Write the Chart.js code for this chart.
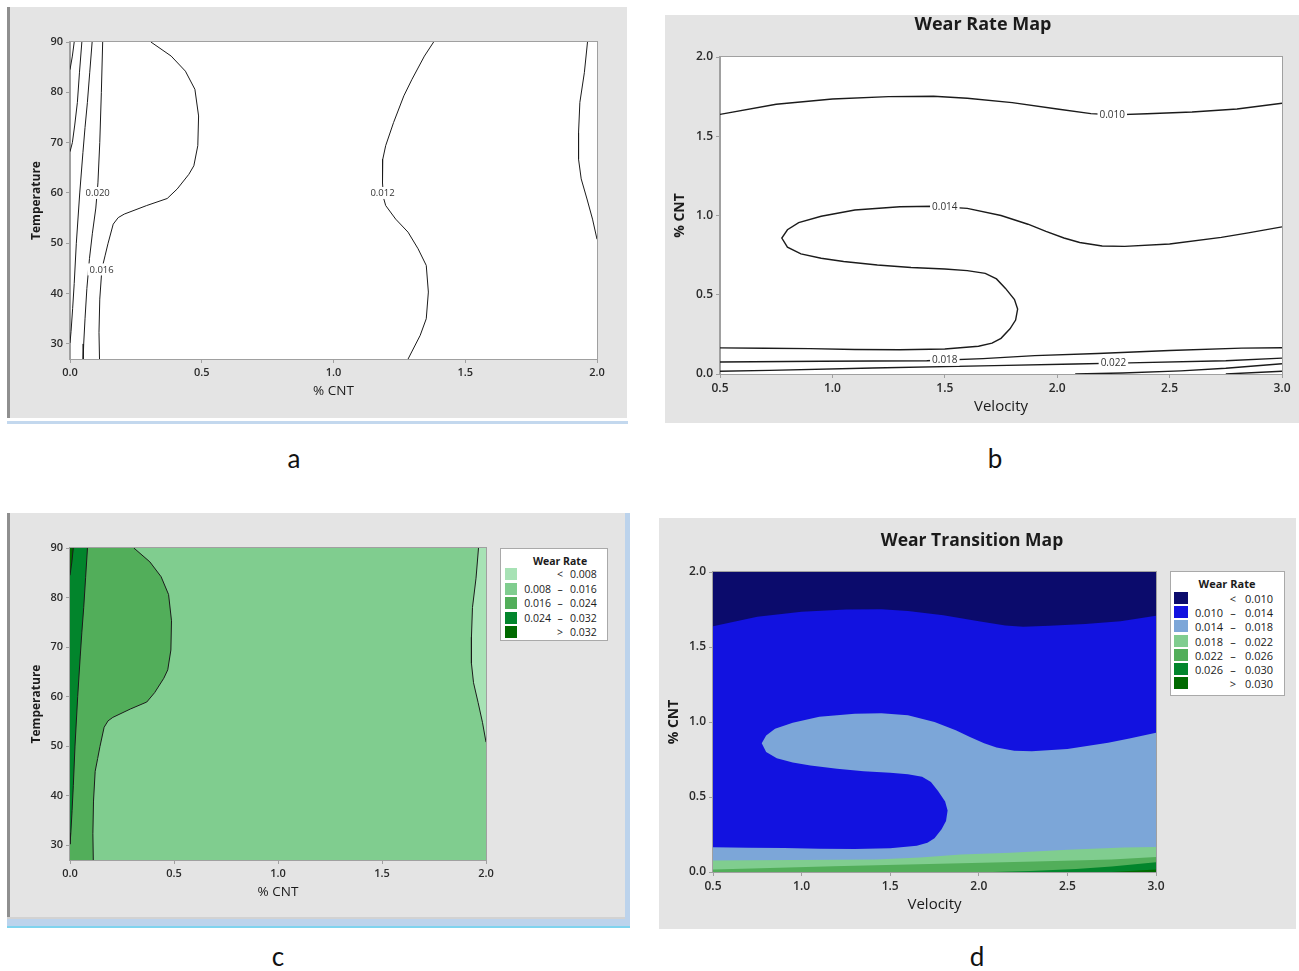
<!DOCTYPE html>
<html>
<head>
<meta charset="utf-8">
<title>Wear rate contour maps</title>
<script src="https://cdn.jsdelivr.net/npm/chart.js@4.4.1/dist/chart.umd.min.js"></script>
<style>
  html, body { margin: 0; padding: 0; background: #fff; }
  body { position: relative; width: 1299px; height: 971px; overflow: hidden; font-family: 'Open Sans', 'Noto Sans', sans-serif; }
  .box { position: absolute; }
  .gray { background: #e4e4e4; }
  canvas { position: absolute; }
  .legend { position: absolute; box-sizing: border-box; background: #fff; border: 1px solid #a9a9a9; color: #1b1b1b; }
  .legend div { position: absolute; white-space: nowrap; line-height: 1; }
  .tag { position: absolute; font-family: 'Lato', 'Open Sans', sans-serif; font-size: 26px; color: #111; transform: translate(-50%, -50%); }
</style>
</head>
<body>
  <!-- panel a frame -->
  <div class="box gray" style="left:7px;top:7px;width:620px;height:411px;"></div>
  <div class="box" style="left:7px;top:7px;width:3px;height:411px;background:#8f8f8f;"></div>
  <div class="box" style="left:7px;top:421px;width:621px;height:3px;background:#c3d8ee;"></div>
  <canvas id="chartA" width="620" height="411" style="left:7px;top:7px;"></canvas>

  <!-- panel b frame -->
  <div class="box gray" style="left:665px;top:15px;width:634px;height:408px;"></div>
  <canvas id="chartB" width="634" height="408" style="left:665px;top:15px;"></canvas>

  <!-- panel c frame -->
  <div class="box gray" style="left:7px;top:513px;width:618px;height:404px;"></div>
  <div class="box" style="left:7px;top:513px;width:3px;height:404px;background:#8f8f8f;"></div>
  <div class="box" style="left:625px;top:513px;width:5px;height:415px;background:#bcd3ec;"></div>
  <div class="box" style="left:7px;top:917px;width:618px;height:2px;background:#d2d2d2;"></div>
  <div class="box" style="left:7px;top:919px;width:623px;height:7px;background:#bcd3ec;"></div>
  <div class="box" style="left:7px;top:926px;width:623px;height:2px;background:#7fd3ee;"></div>
  <canvas id="chartC" width="618" height="404" style="left:7px;top:513px;"></canvas>

  <!-- panel d frame -->
  <div class="box gray" style="left:659px;top:518px;width:637px;height:411px;"></div>
  <canvas id="chartD" width="637" height="411" style="left:659px;top:518px;"></canvas>

  <div id="legendC" class="legend" style="left:500px;top:548px;width:108px;height:93px;"></div>
  <div id="legendD" class="legend" style="left:1170px;top:571px;width:115px;height:125px;"></div>

  <div class="tag" style="left:294px;top:458px;">a</div>
  <div class="tag" style="left:995px;top:458px;">b</div>
  <div class="tag" style="left:278px;top:956px;">c</div>
  <div class="tag" style="left:977px;top:956px;">d</div>

<script>
// ---------- axes ----------
const cntRange = [0, 2];
const tempRange = [27, 90];
const velRange = [0.5, 3.0];
const cntTicks = [0.0, 0.5, 1.0, 1.5, 2.0];
const tempTicks = [30, 40, 50, 60, 70, 80, 90];
const velTicks = [0.5, 1.0, 1.5, 2.0, 2.5, 3.0];

// ---------- % CNT vs Temperature contours, [%CNT, Temperature] ----------
const tc032 = [[0.016, 90], [0.009, 87.2], [0.0, 84.5]];
const tc028 = [[0.045, 90], [0.036, 84], [0.028, 78], [0.018, 73.5], [0.009, 70], [0.0, 68.2]];
const tc024 = [[0.084, 90], [0.075, 84], [0.066, 78], [0.057, 73], [0.049, 68], [0.037, 60], [0.024, 50],
               [0.016, 42], [0.010, 37], [0.004, 32.5], [0.0, 30.2]];
const tc020 = [[0.124, 90], [0.119, 80], [0.113, 70], [0.106, 62], [0.098, 57], [0.085, 52], [0.074, 47],
               [0.064, 41], [0.057, 35], [0.052, 30], [0.050, 27]];
const tc016 = [[0.307, 90], [0.384, 87.2], [0.438, 84.2], [0.474, 80.6], [0.488, 75.3], [0.485, 69.4],
               [0.470, 65.4], [0.451, 63.7], [0.407, 60.8], [0.369, 58.9], [0.291, 57.5], [0.206, 55.8],
               [0.183, 55.1], [0.164, 53.8], [0.144, 49.9], [0.133, 47.5], [0.121, 44.9], [0.113, 38.9],
               [0.110, 32.3], [0.112, 27]];
const tc012 = [[1.380, 90], [1.345, 87.2], [1.298, 82.6], [1.267, 79.3], [1.228, 74], [1.198, 69.4],
               [1.187, 66.7], [1.186, 62], [1.190, 59], [1.198, 57.5], [1.236, 54.8], [1.283, 52.2],
               [1.321, 48.9], [1.352, 45.6], [1.360, 40.3], [1.352, 35], [1.329, 31.7], [1.283, 27]];
const tc008 = [[1.964, 90], [1.952, 83.9], [1.935, 78], [1.930, 72], [1.930, 66.7], [1.940, 62.8],
               [1.962, 58.8], [1.983, 54.8], [2.0, 50.8]];
const tempLabelText = ['0.020', '0.016', '0.012'];
const tempLabelAt = [[0.105, 60], [0.120, 44.8], [1.186, 60]];

// ---------- Velocity vs % CNT contours, [Velocity, %CNT] ----------
const wr010 = [[0.5, 1.638], [0.75, 1.702], [1.0, 1.735], [1.25, 1.75], [1.45, 1.752], [1.6, 1.74],
               [1.8, 1.712], [2.0, 1.672], [2.15, 1.643], [2.25, 1.635], [2.4, 1.642], [2.6, 1.653],
               [2.8, 1.672], [3.0, 1.708]];
const wr014 = [[3.0, 0.928], [2.85, 0.89], [2.73, 0.862], [2.5, 0.82], [2.3, 0.805], [2.2, 0.808],
               [2.1, 0.83], [2.03, 0.858], [1.95, 0.9], [1.87, 0.945], [1.75, 1.0], [1.6, 1.045],
               [1.45, 1.058], [1.3, 1.055], [1.1, 1.035], [0.95, 0.995], [0.85, 0.955], [0.8, 0.91],
               [0.775, 0.858], [0.8, 0.8], [0.86, 0.758], [0.95, 0.73], [1.05, 0.71], [1.2, 0.688],
               [1.35, 0.672], [1.5, 0.662], [1.6, 0.652], [1.68, 0.635], [1.73, 0.6], [1.77, 0.54],
               [1.81, 0.47], [1.824, 0.41], [1.815, 0.34], [1.79, 0.285], [1.75, 0.225], [1.71, 0.195],
               [1.65, 0.175], [1.5, 0.158], [1.3, 0.153], [1.1, 0.155], [0.9, 0.16], [0.7, 0.162],
               [0.5, 0.165]];
const wr018 = [[0.5, 0.076], [0.95, 0.080], [1.42, 0.084], [1.67, 0.097], [1.9, 0.116], [2.18, 0.129],
               [2.5, 0.148], [2.82, 0.163], [3.0, 0.166]];
const wr022 = [[0.5, 0.017], [0.72, 0.023], [1.18, 0.038], [1.72, 0.053], [2.08, 0.063], [2.32, 0.070],
               [2.75, 0.084], [3.0, 0.100]];
const wr026 = [[2.08, 0.0], [2.29, 0.006], [2.55, 0.020], [2.75, 0.036], [3.0, 0.065]];
const wr030 = [[2.75, 0.0], [3.0, 0.017]];
const velLabelText = ['0.010', '0.014', '0.018', '0.022'];
const velLabelAt = [[2.245, 1.636], [1.5, 1.058], [1.5, 0.090], [2.25, 0.070]];

// ---------- legends ----------
const legendTitle = 'Wear Rate';
const cLegendLo = ['', '0.008', '0.016', '0.024', ''];
const cLegendSym = ['<', '–', '–', '–', '>'];
const cLegendHi = ['0.008', '0.016', '0.024', '0.032', '0.032'];
const cColors = ['#a7e2b5', '#80cd8f', '#52ae5a', '#02852c', '#006a00'];
const dLegendLo = ['', '0.010', '0.014', '0.018', '0.022', '0.026', ''];
const dLegendSym = ['<', '–', '–', '–', '–', '–', '>'];
const dLegendHi = ['0.010', '0.014', '0.018', '0.022', '0.026', '0.030', '0.030'];
const dColors = ['#0b0b6c', '#1212e0', '#7ca6d8', '#80cd8f', '#52ae5a', '#02852c', '#006a00'];

// ---------- helpers ----------
const INK = '#1b1b1b';
const AXIS = '#a0a0a0';
const FAMILY = "'Open Sans', 'Noto Sans', sans-serif";
const pts = arr => arr.map(([x, y]) => ({ x, y }));
const labelsFrom = (texts, at) => texts.map((t, i) => ({ text: t, x: at[i][0], y: at[i][1] }));

const contour = (arr, width) => ({
  type: 'line', data: pts(arr), borderColor: INK, borderWidth: width,
  fill: false, pointRadius: 0, tension: 0, order: 0
});
const region = (arr, color, order) => ({
  type: 'line', data: pts(arr), backgroundColor: color, borderColor: 'rgba(0,0,0,0)',
  borderWidth: 0, fill: 'shape', pointRadius: 0, tension: 0, order
});

// background, frame, heading and in-line contour labels
const plotDecor = {
  id: 'plotDecor',
  beforeDraw(chart, args, o) {
    const { ctx, chartArea: a } = chart;
    ctx.save();
    if (o.background) {
      ctx.fillStyle = o.background;
      ctx.fillRect(a.left, a.top, a.right - a.left, a.bottom - a.top);
    }
    if (o.heading) {
      ctx.font = o.heading.font;
      ctx.fillStyle = INK;
      ctx.textAlign = 'center';
      ctx.textBaseline = 'middle';
      ctx.fillText(o.heading.text, o.heading.x, o.heading.y);
    }
    ctx.restore();
  },
  afterDatasetsDraw(chart, args, o) {
    const { ctx, chartArea: a, scales: { x, y } } = chart;
    ctx.save();
    (o.labels || []).forEach(l => {
      ctx.font = o.labelFont;
      ctx.textAlign = 'center';
      ctx.textBaseline = 'middle';
      const px = x.getPixelForValue(l.x), py = y.getPixelForValue(l.y);
      const w = ctx.measureText(l.text).width + 4;
      ctx.fillStyle = '#fff';
      ctx.fillRect(px - w / 2, py - 6, w, 12);
      ctx.fillStyle = '#333';
      ctx.fillText(l.text, px, py + 0.5);
    });
    ctx.strokeStyle = AXIS;
    ctx.lineWidth = 1;
    ctx.strokeRect(Math.round(a.left) - 0.5, Math.round(a.top) - 0.5,
                   Math.round(a.right - a.left) + 1, Math.round(a.bottom - a.top) + 1);
    ctx.restore();
  }
};

function axis({ range, ticks, digits, title, titleFont, tickSize, size, titlePad, horizontal }) {
  return {
    type: 'linear', min: range[0], max: range[1],
    afterBuildTicks: s => { s.ticks = ticks.map(v => ({ value: v })); },
    afterFit: s => { if (horizontal) s.height = size; else s.width = size; },
    ticks: {
      callback: v => Number(v).toFixed(digits),
      font: { family: FAMILY, size: tickSize, weight: '600' }, color: '#2a2a2a', padding: 3,
      maxRotation: 0, autoSkip: false
    },
    grid: { drawOnChartArea: false, drawTicks: true, tickLength: 4, color: AXIS },
    border: { display: true, color: AXIS },
    title: { display: true, text: title, font: titleFont, color: INK, padding: titlePad }
  };
}

function build(id, { datasets, padding, x, y, decor }) {
  return new Chart(document.getElementById(id), {
    type: 'line',
    data: { datasets },
    options: {
      responsive: false, animation: false, events: [],
      layout: { padding },
      plugins: {
        legend: { display: false },
        tooltip: { enabled: false },
        title: { display: false },
        plotDecor: decor
      },
      scales: { x, y }
    },
    plugins: [plotDecor]
  });
}

const [t0, t1] = tempRange;
const [n0, n1] = cntRange;
const [v0, v1] = velRange;

// ---------- a: contour lines, % CNT vs Temperature ----------
build('chartA', {
  datasets: [tc032, tc028, tc024, tc020, tc016, tc012, tc008].map(c => contour(c, 1)),
  padding: { left: 0, right: 30, top: 35, bottom: 19 },
  x: axis({ range: cntRange, ticks: cntTicks, digits: 1, title: '% CNT', tickSize: 11,
            titleFont: { family: FAMILY, size: 13.5 }, size: 40, titlePad: { top: 0, bottom: 0 }, horizontal: true }),
  y: axis({ range: tempRange, ticks: tempTicks, digits: 0, title: 'Temperature', tickSize: 11,
            titleFont: { family: FAMILY, size: 12, weight: 'bold' }, size: 63, titlePad: { top: 22, bottom: 0 } }),
  decor: { background: '#fff', labels: labelsFrom(tempLabelText, tempLabelAt), labelFont: `9.5px ${FAMILY}` }
});

// ---------- b: Wear Rate Map, contour lines ----------
build('chartB', {
  datasets: [wr010, wr014, wr018, wr022, wr026, wr030].map(c => contour(c, 1.4)),
  padding: { left: 0, right: 17, top: 42, bottom: 7 },
  x: axis({ range: velRange, ticks: velTicks, digits: 1, title: 'Velocity', tickSize: 12,
            titleFont: { family: FAMILY, size: 15 }, size: 42, titlePad: { top: 0, bottom: 0 }, horizontal: true }),
  y: axis({ range: cntRange, ticks: cntTicks, digits: 1, title: '% CNT', tickSize: 12,
            titleFont: { family: FAMILY, size: 14, weight: 'bold' }, size: 55, titlePad: { top: 6.6, bottom: 0 } }),
  decor: { background: '#fff', labels: labelsFrom(velLabelText, velLabelAt), labelFont: `10px ${FAMILY}`,
           heading: { text: 'Wear Rate Map', x: 318, y: 10, font: `bold 18px ${FAMILY}` } }
});

// ---------- c: filled contours, % CNT vs Temperature ----------
build('chartC', {
  datasets: [
    region([[n0, t0], [n1, t0], [n1, t1], [n0, t1]], cColors[1], 10),
    region([...tc008, [n1, t1]], cColors[0], 9),
    region([...tc016, [n0, t0], [n0, t1]], cColors[2], 8),
    region([...tc024, [n0, t1]], cColors[3], 7),
    region([...tc032, [n0, t1]], cColors[4], 6),
    ...[tc032, tc024, tc016, tc008].map(c => contour(c, 1))
  ],
  padding: { left: 0, right: 139, top: 35, bottom: 17 },
  x: axis({ range: cntRange, ticks: cntTicks, digits: 1, title: '% CNT', tickSize: 11,
            titleFont: { family: FAMILY, size: 13.5 }, size: 40, titlePad: { top: 0, bottom: 0 }, horizontal: true }),
  y: axis({ range: tempRange, ticks: tempTicks, digits: 0, title: 'Temperature', tickSize: 11,
            titleFont: { family: FAMILY, size: 12, weight: 'bold' }, size: 63, titlePad: { top: 22, bottom: 0 } }),
  decor: {}
});

// ---------- d: Wear Transition Map, filled contours ----------
build('chartD', {
  datasets: [
    region([[v0, n0], [v1, n0], [v1, n1], [v0, n1]], dColors[0], 10),
    region([...wr010, [v1, n0], [v0, n0]], dColors[1], 9),
    region([...wr014, [v0, n0], [v1, n0]], dColors[2], 8),
    region([...wr018, [v1, n0], [v0, n0]], dColors[3], 7),
    region([...wr022, [v1, n0], [v0, n0]], dColors[4], 6),
    region([...wr026, [v1, n0]], dColors[5], 5),
    region([...wr030, [v1, n0]], dColors[6], 4)
  ],
  padding: { left: 0, right: 140, top: 54, bottom: 15 },
  x: axis({ range: velRange, ticks: velTicks, digits: 1, title: 'Velocity', tickSize: 12,
            titleFont: { family: FAMILY, size: 15 }, size: 42, titlePad: { top: 0, bottom: 0 }, horizontal: true }),
  y: axis({ range: cntRange, ticks: cntTicks, digits: 1, title: '% CNT', tickSize: 12,
            titleFont: { family: FAMILY, size: 14, weight: 'bold' }, size: 54, titlePad: { top: 6.6, bottom: 0 } }),
  decor: { heading: { text: 'Wear Transition Map', x: 313, y: 23, font: `bold 17.5px ${FAMILY}` } }
});

// ---------- legends (three text columns per row) ----------
function legend(id, { lo, sym, hi, colors, font, titleAt, row0, step, sw, loRight, symCenter, hiLeft }) {
  const el = document.getElementById(id);
  const add = (text, css) => {
    const d = document.createElement('div');
    d.textContent = text;
    d.style.cssText = css;
    el.appendChild(d);
  };
  add(legendTitle, `left:${titleAt[0]}px;top:${titleAt[1]}px;transform:translate(-50%,-50%);font:bold ${font}px ${FAMILY};`);
  colors.forEach((c, i) => {
    const cy = row0 + i * step;
    add('', `left:${sw[0]}px;top:${cy - sw[2] / 2}px;width:${sw[1]}px;height:${sw[2]}px;background:${c};`);
    const base = `top:${cy}px;font:${font}px ${FAMILY};`;
    if (lo[i]) add(lo[i], base + `right:${el.clientWidth - loRight}px;transform:translateY(-50%);`);
    add(sym[i], base + `left:${symCenter}px;transform:translate(-50%,-50%);`);
    add(hi[i], base + `left:${hiLeft}px;transform:translateY(-50%);`);
  });
}

legend('legendC', { lo: cLegendLo, sym: cLegendSym, hi: cLegendHi, colors: cColors, font: 10.5,
  titleAt: [59, 12], row0: 25, step: 14.5, sw: [4, 12, 12], loRight: 50, symCenter: 59, hiLeft: 69 });
legend('legendD', { lo: dLegendLo, sym: dLegendSym, hi: dLegendHi, colors: dColors, font: 11,
  titleAt: [56, 11], row0: 26, step: 14.2, sw: [3, 14, 12], loRight: 52, symCenter: 62, hiLeft: 74 });
</script>
</body>
</html>
